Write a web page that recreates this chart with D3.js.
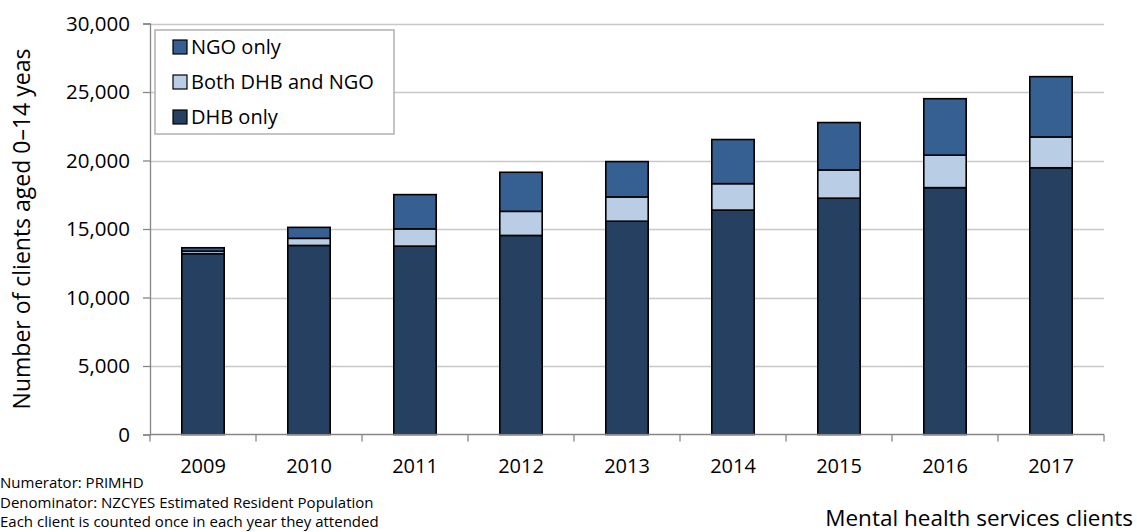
<!DOCTYPE html>
<html>
<head>
<meta charset="utf-8">
<script src="https://cdn.jsdelivr.net/npm/d3@7"></script>
<style>
  html, body { margin: 0; padding: 0; background: #fff; }
  svg { display: block; font-family: "Open Sans", "Noto Sans", sans-serif; }
</style>
</head>
<body>
<svg id="chart" width="1137" height="532"></svg>
<script>
// Mental health services clients aged 0–14, by service type
const years = ["2009", "2010", "2011", "2012", "2013", "2014", "2015", "2016", "2017"];
const dhbOnly = [13200, 13800, 13750, 14530, 15570, 16380, 17250, 18020, 19470];
const bothDhbNgo = [180, 520, 1260, 1760, 1770, 1930, 2060, 2370, 2250];
const ngoOnly = [250, 800, 2500, 2850, 2580, 3220, 3460, 4120, 4400];
const yTicks = [0, 5000, 10000, 15000, 20000, 25000, 30000];
const seriesNames = ["DHB only", "Both DHB and NGO", "NGO only"];
const legendOrder = ["NGO only", "Both DHB and NGO", "DHB only"];
const notes = [
  "Numerator: PRIMHD",
  "Denominator: NZCYES Estimated Resident Population",
  "Each client is counted once in each year they attended"
];

const colors = {
  "DHB only": "#254061",
  "Both DHB and NGO": "#B9CDE5",
  "NGO only": "#376092"
};

const svg = d3.select("#chart");
const plot = { left: 150, right: 1104, top: 23.5, bottom: 434.5 };

const x = d3.scaleBand().domain(years).range([plot.left, plot.right]).paddingInner(0.6).paddingOuter(0.3);
const xOuter = d3.scaleBand().domain(years).range([plot.left, plot.right]);
const y = d3.scaleLinear().domain([0, 30000]).range([plot.bottom, plot.top]);

// Gridlines
svg.append("g")
  .selectAll("line")
  .data(yTicks.filter(d => d > 0))
  .join("line")
  .attr("x1", plot.left).attr("x2", plot.right)
  .attr("y1", d => Math.round(y(d)) + 0.5).attr("y2", d => Math.round(y(d)) + 0.5)
  .attr("stroke", "#c8c8c8").attr("stroke-width", 1.5);

// Stacked bars
const table = years.map((yr, i) => ({
  year: yr,
  "DHB only": dhbOnly[i],
  "Both DHB and NGO": bothDhbNgo[i],
  "NGO only": ngoOnly[i]
}));
const stack = d3.stack().keys(seriesNames)(table);

svg.append("g")
  .selectAll("g")
  .data(stack)
  .join("g")
  .attr("fill", d => colors[d.key])
  .selectAll("rect")
  .data(d => d)
  .join("rect")
  .attr("x", d => x(d.data.year))
  .attr("width", x.bandwidth())
  .attr("y", d => y(d[1]))
  .attr("height", d => y(d[0]) - y(d[1]))
  .attr("stroke", "#000")
  .attr("stroke-width", 1.6);

// Y axis
const yAxis = d3.axisLeft(y).tickValues(yTicks).tickSize(7).tickPadding(13)
  .tickFormat(d3.format(","));
const yg = svg.append("g").attr("transform", `translate(${plot.left},0)`).call(yAxis);
yg.select(".domain").attr("stroke", "#868686").attr("stroke-width", 1.3);
yg.selectAll(".tick line").attr("stroke", "#868686").attr("stroke-width", 1.3);
yg.selectAll(".tick text").attr("font-size", 20.5).attr("fill", "#000")
  .attr("font-family", "'Open Sans', sans-serif");

// X axis: ticks between categories
const xg = svg.append("g").attr("transform", `translate(0,${plot.bottom})`);
xg.append("line").attr("x1", plot.left).attr("x2", plot.right)
  .attr("stroke", "#868686").attr("stroke-width", 1.3);
const boundaries = years.map(d => xOuter(d)).concat([plot.right]);
xg.selectAll("line.tk").data(boundaries).join("line").attr("class", "tk")
  .attr("x1", d => d).attr("x2", d => d).attr("y1", 0).attr("y2", 7)
  .attr("stroke", "#868686").attr("stroke-width", 1.3);
xg.selectAll("text").data(years).join("text")
  .attr("x", d => xOuter(d) + xOuter.bandwidth() / 2)
  .attr("y", 38)
  .attr("text-anchor", "middle")
  .attr("font-size", 20)
  .attr("fill", "#000")
  .text(d => d);

// Y axis title
svg.append("text")
  .attr("transform", `translate(30,${(plot.top + plot.bottom) / 2}) rotate(-90)`)
  .attr("text-anchor", "middle")
  .attr("font-size", 23)
  .attr("fill", "#000")
  .text("Number of clients aged 0–14 yeas");

// Legend
const lg = svg.append("g").attr("transform", "translate(155,30)");
lg.append("rect").attr("x", 0).attr("y", 0).attr("width", 239).attr("height", 104)
  .attr("fill", "#fff").attr("stroke", "#b0b0b0").attr("stroke-width", 1.5);
const items = lg.selectAll("g.item").data(legendOrder).join("g").attr("class", "item")
  .attr("transform", (d, i) => `translate(0,${17 + i * 35})`);
items.append("rect").attr("x", 18).attr("y", -7).attr("width", 14).attr("height", 14)
  .attr("fill", d => colors[d]).attr("stroke", "#000").attr("stroke-width", 1.2);
items.append("text").attr("x", 36).attr("y", 7).attr("font-size", 20).attr("fill", "#000")
  .text(d => d);

// Footnotes
svg.append("g").selectAll("text").data(notes).join("text")
  .attr("x", 0).attr("y", (d, i) => 488 + i * 19.5)
  .attr("font-size", 15).attr("fill", "#000")
  .text(d => d);

// Chart label
svg.append("text")
  .attr("x", 1133).attr("y", 526)
  .attr("text-anchor", "end")
  .attr("font-size", 22.5).attr("fill", "#000")
  .text("Mental health services clients");
</script>
</body>
</html>
